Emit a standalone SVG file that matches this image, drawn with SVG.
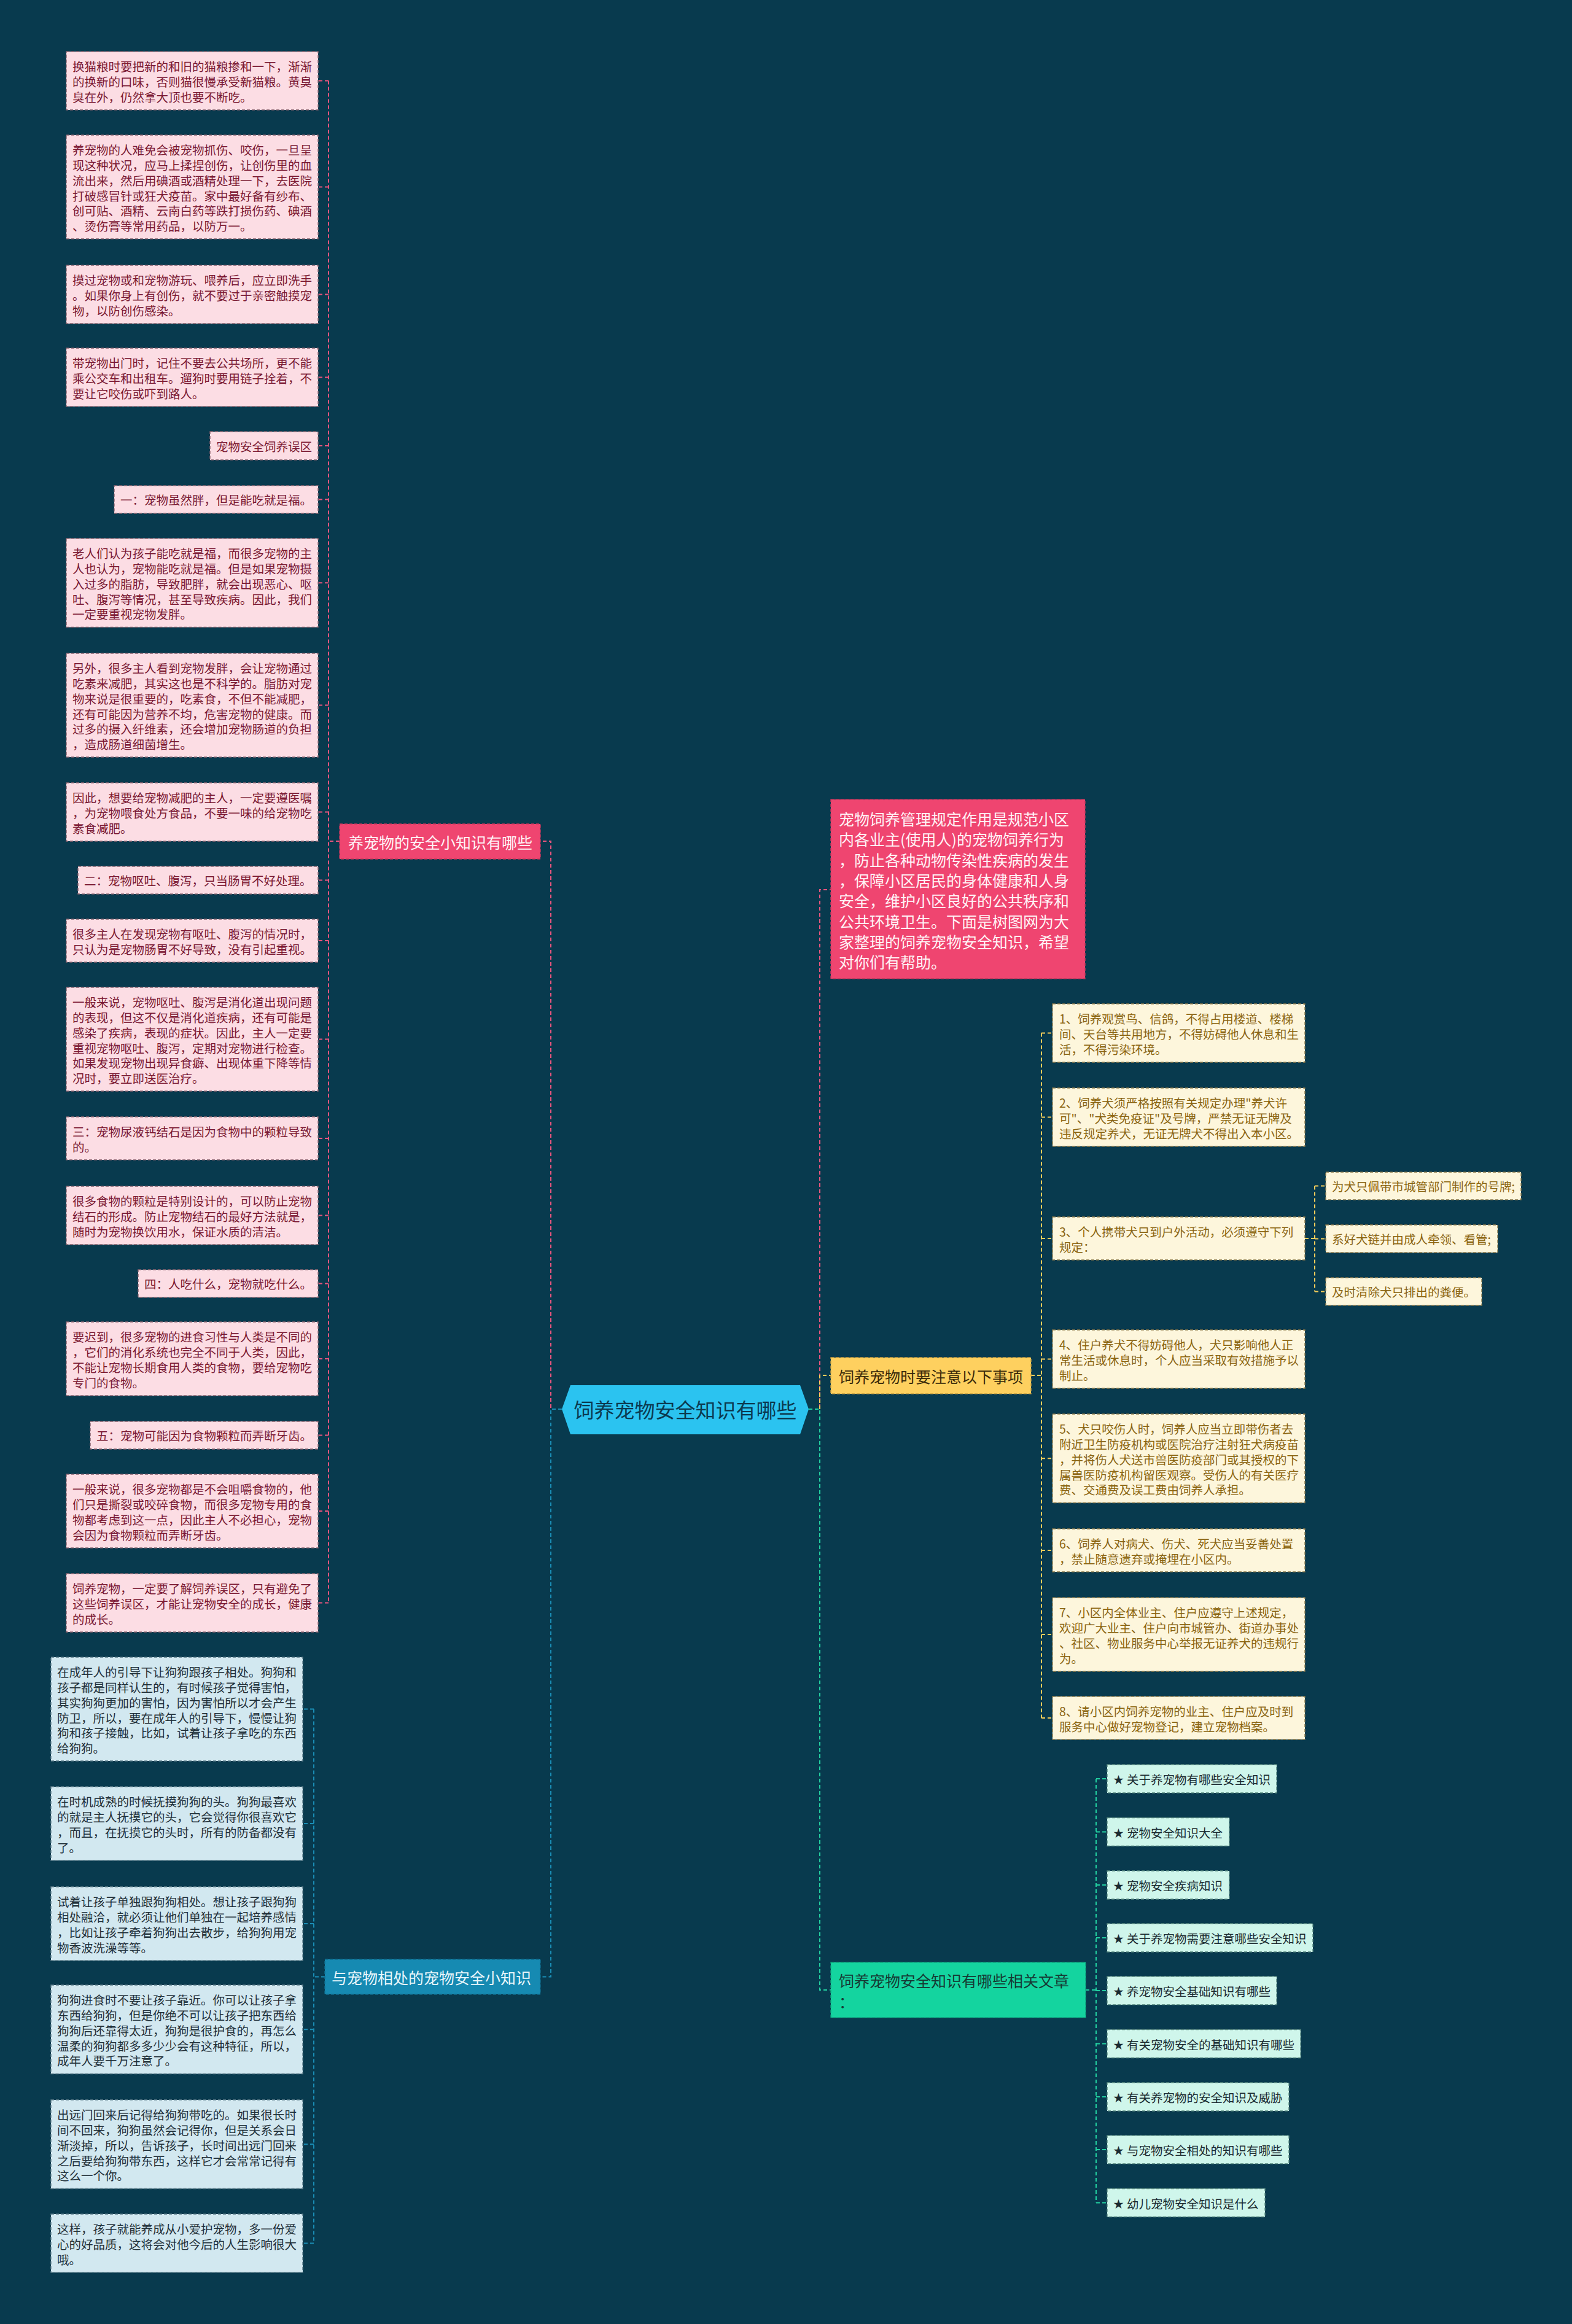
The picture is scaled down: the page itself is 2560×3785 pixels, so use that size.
<svg xmlns="http://www.w3.org/2000/svg" width="2560" height="3785" viewBox="0 0 2560 3785">
<style>
text{font-family:"Noto Sans CJK SC","Noto Sans",sans-serif;dominant-baseline:central}
.bg{fill:#083a4e}
.lf{font-size:19.5px}
.pk rect{fill:#fcdde4;stroke:#8a6470;stroke-width:1.4;stroke-dasharray:5 3}
.pk text{fill:#7a1832}
.bl rect{fill:#d2e8f0;stroke:#5f7f8c;stroke-width:1.4;stroke-dasharray:5 3}
.bl text{fill:#1f2f38}
.ye rect{fill:#fdf6dc;stroke:#8c7a4a;stroke-width:1.4;stroke-dasharray:5 3}
.ye text{fill:#8a6410}
.gr rect{fill:#cff6eb;stroke:#5a8a80;stroke-width:1.4;stroke-dasharray:5 3}
.gr text{fill:#1a2a30}
.br text{font-size:25px}
.c{fill:none;stroke-width:2;stroke-dasharray:6 4}
.cp{stroke:#e9557e}.cy{stroke:#f5cd5a}.cg{stroke:#22cfa0}.cb{stroke:#1a8db5}
</style>
<rect class="bg" x="0" y="0" width="2560" height="3785"/>

<g id="connectors">
  <!-- center to pink branch -->
  <path class="c cp" d="M915,2295 H897 V1370 H880"/>
  <!-- center to blue branch -->
  <path class="c cb" d="M915,2295 H897 V3219.5 H880"/>
  <!-- pink branch children -->
  <path class="c cp" d="M553,1370 H535"/>
  <path class="c cp" d="M535,131.5 V2610.5"/>
  <path class="c cp" d="M535,131.5 H518 M535,304.5 H518 M535,479.5 H518 M535,614.5 H518 M535,726 H518 M535,813.5 H518 M535,949.25 H518 M535,1148.5 H518 M535,1322.5 H518 M535,1433.5 H518 M535,1532 H518 M535,1692.5 H518 M535,1854 H518 M535,1979.5 H518 M535,2090.5 H518 M535,2213 H518 M535,2337.5 H518 M535,2461 H518 M535,2610.5 H518"/>
  <!-- blue branch children -->
  <path class="c cb" d="M529,3219.5 H511"/>
  <path class="c cb" d="M511,2783.5 V3653.5"/>
  <path class="c cb" d="M511,2783.5 H493 M511,2970 H493 M511,3133 H493 M511,3305.25 H493 M511,3492.25 H493 M511,3653.5 H493"/>
  <!-- center right -->
  <path class="c cp" d="M1317,2295 H1335 V1449 H1353"/>
  <path class="c cg" d="M1317,2295 H1335 V3241 H1353"/>
  <path class="c cy" d="M1335,2295 V2240 H1353"/>
  <!-- yellow children -->
  <path class="c cy" d="M1679,2240 H1696"/>
  <path class="c cy" d="M1696,1682.5 V2798"/>
  <path class="c cy" d="M1696,1682.5 H1714 M1696,1819.5 H1714 M1696,2017 H1714 M1696,2213.5 H1714 M1696,2375.25 H1714 M1696,2525 H1714 M1696,2662 H1714 M1696,2798 H1714"/>
  <path class="c cy" d="M2125,2017 H2141 M2141,1931.5 V2103.5 M2141,1931.5 H2159 M2141,2017.5 H2159 M2141,2103.5 H2159"/>
  <!-- green children -->
  <path class="c cg" d="M1768,3241 H1785"/>
  <path class="c cg" d="M1785,2897 V3587.5"/>
  <path class="c cg" d="M1785,2897 H1803 M1785,2983.5 H1803 M1785,3070 H1803 M1785,3156 H1803 M1785,3242 H1803 M1785,3328.5 H1803 M1785,3415 H1803 M1785,3501 H1803 M1785,3587.5 H1803"/>
</g>

<g id="center">
  <polygon points="915,2295 929,2256 1303,2256 1317,2295 1303,2336 929,2336" fill="#2bc3f0"/>
  <text x="1116" y="2295" font-size="33" fill="#0c3a50" text-anchor="middle">饲养宠物安全知识有哪些</text>
</g>

<g id="branch-pink" class="br">
  <rect x="553" y="1342" width="327" height="57" fill="#ef4570" stroke="#c8385c" stroke-width="1.4" stroke-dasharray="5 3"/>
  <text x="567" y="1370.5" fill="#fff3f6">养宠物的安全小知识有哪些</text>
</g>
<g id="branch-blue" class="br">
  <rect x="529" y="3191" width="351" height="57" fill="#168ab2" stroke="#0f6d8e" stroke-width="1.4" stroke-dasharray="5 3"/>
  <text x="540" y="3219.5" fill="#e8f6fb">与宠物相处的宠物安全小知识</text>
</g>
<g id="branch-intro" class="br">
  <rect x="1353" y="1302" width="414" height="292" fill="#ef4570" stroke="#c8385c" stroke-width="1.4" stroke-dasharray="5 3"/>
  <text fill="#fff3f6">
    <tspan x="1366" y="1333">宠物饲养管理规定作用是规范小区</tspan>
    <tspan x="1366" y="1366.3">内各业主(使用人)的宠物饲养行为</tspan>
    <tspan x="1366" y="1399.6">，防止各种动物传染性疾病的发生</tspan>
    <tspan x="1366" y="1432.9">，保障小区居民的身体健康和人身</tspan>
    <tspan x="1366" y="1466.2">安全，维护小区良好的公共秩序和</tspan>
    <tspan x="1366" y="1499.5">公共环境卫生。下面是树图网为大</tspan>
    <tspan x="1366" y="1532.8">家整理的饲养宠物安全知识，希望</tspan>
    <tspan x="1366" y="1566.1">对你们有帮助。</tspan>
  </text>
</g>
<g id="branch-yellow" class="br">
  <rect x="1353" y="2211" width="326" height="59" fill="#fed05f" stroke="#c9a040" stroke-width="1.4" stroke-dasharray="5 3"/>
  <text x="1366" y="2240.5" fill="#3a2a0a">饲养宠物时要注意以下事项</text>
</g>
<g id="branch-green" class="br">
  <rect x="1353" y="3196" width="415" height="90" fill="#14d49f" stroke="#10a47c" stroke-width="1.4" stroke-dasharray="5 3"/>
  <text fill="#163a34"><tspan x="1366" y="3225">饲养宠物安全知识有哪些相关文章</tspan><tspan x="1366" y="3259">：</tspan></text>
</g>

<!-- pink leaves -->
<g id="p1" class="pk lf"><rect x="108" y="84" width="410" height="95"/><text><tspan x="118" y="107.4">换猫粮时要把新的和旧的猫粮掺和一下，渐渐</tspan><tspan x="118" y="132.1">的换新的口味，否则猫很慢承受新猫粮。黄臭</tspan><tspan x="118" y="156.8">臭在外，仍然拿大顶也要不断吃。</tspan></text></g>
<g id="p2" class="pk lf"><rect x="108" y="220" width="410" height="169"/><text><tspan x="118" y="243.4">养宠物的人难免会被宠物抓伤、咬伤，一旦呈</tspan><tspan x="118" y="268.1">现这种状况，应马上揉捏创伤，让创伤里的血</tspan><tspan x="118" y="292.8">流出来，然后用碘酒或酒精处理一下，去医院</tspan><tspan x="118" y="317.5">打破感冒针或狂犬疫苗。家中最好备有纱布、</tspan><tspan x="118" y="342.2">创可贴、酒精、云南白药等跌打损伤药、碘酒</tspan><tspan x="118" y="366.9">、烫伤膏等常用药品，以防万一。</tspan></text></g>
<g id="p3" class="pk lf"><rect x="108" y="432" width="410" height="95"/><text><tspan x="118" y="455.4">摸过宠物或和宠物游玩、喂养后，应立即洗手</tspan><tspan x="118" y="480.1">。如果你身上有创伤，就不要过于亲密触摸宠</tspan><tspan x="118" y="504.8">物，以防创伤感染。</tspan></text></g>
<g id="p4" class="pk lf"><rect x="108" y="567" width="410" height="95"/><text><tspan x="118" y="590.4">带宠物出门时，记住不要去公共场所，更不能</tspan><tspan x="118" y="615.1">乘公交车和出租车。遛狗时要用链子拴着，不</tspan><tspan x="118" y="639.8">要让它咬伤或吓到路人。</tspan></text></g>
<g id="p5" class="pk lf"><rect x="342" y="703" width="176" height="46"/><text x="352" y="726">宠物安全饲养误区</text></g>
<g id="p6" class="pk lf"><rect x="186" y="791" width="332" height="45"/><text x="196" y="813.5">一：宠物虽然胖，但是能吃就是福。</text></g>
<g id="p7" class="pk lf"><rect x="108" y="877" width="410" height="144.5"/><text><tspan x="118" y="900.4">老人们认为孩子能吃就是福，而很多宠物的主</tspan><tspan x="118" y="925.1">人也认为，宠物能吃就是福。但是如果宠物摄</tspan><tspan x="118" y="949.8">入过多的脂肪，导致肥胖，就会出现恶心、呕</tspan><tspan x="118" y="974.5">吐、腹泻等情况，甚至导致疾病。因此，我们</tspan><tspan x="118" y="999.2">一定要重视宠物发胖。</tspan></text></g>
<g id="p8" class="pk lf"><rect x="108" y="1064" width="410" height="169"/><text><tspan x="118" y="1087.4">另外，很多主人看到宠物发胖，会让宠物通过</tspan><tspan x="118" y="1112.1">吃素来减肥，其实这也是不科学的。脂肪对宠</tspan><tspan x="118" y="1136.8">物来说是很重要的，吃素食，不但不能减肥，</tspan><tspan x="118" y="1161.5">还有可能因为营养不均，危害宠物的健康。而</tspan><tspan x="118" y="1186.2">过多的摄入纤维素，还会增加宠物肠道的负担</tspan><tspan x="118" y="1210.9">，造成肠道细菌增生。</tspan></text></g>
<g id="p9" class="pk lf"><rect x="108" y="1275" width="410" height="95"/><text><tspan x="118" y="1298.4">因此，想要给宠物减肥的主人，一定要遵医嘱</tspan><tspan x="118" y="1323.1">，为宠物喂食处方食品，不要一味的给宠物吃</tspan><tspan x="118" y="1347.8">素食减肥。</tspan></text></g>
<g id="p10" class="pk lf"><rect x="127" y="1411" width="391" height="45"/><text x="137" y="1433.5">二：宠物呕吐、腹泻，只当肠胃不好处理。</text></g>
<g id="p11" class="pk lf"><rect x="108" y="1497" width="410" height="70"/><text><tspan x="118" y="1520.4">很多主人在发现宠物有呕吐、腹泻的情况时，</tspan><tspan x="118" y="1545.1">只认为是宠物肠胃不好导致，没有引起重视。</tspan></text></g>
<g id="p12" class="pk lf"><rect x="108" y="1608" width="410" height="169"/><text><tspan x="118" y="1631.4">一般来说，宠物呕吐、腹泻是消化道出现问题</tspan><tspan x="118" y="1656.1">的表现，但这不仅是消化道疾病，还有可能是</tspan><tspan x="118" y="1680.8">感染了疾病，表现的症状。因此，主人一定要</tspan><tspan x="118" y="1705.5">重视宠物呕吐、腹泻，定期对宠物进行检查。</tspan><tspan x="118" y="1730.2">如果发现宠物出现异食癖、出现体重下降等情</tspan><tspan x="118" y="1754.9">况时，要立即送医治疗。</tspan></text></g>
<g id="p13" class="pk lf"><rect x="108" y="1819" width="410" height="70"/><text><tspan x="118" y="1842.4">三：宠物尿液钙结石是因为食物中的颗粒导致</tspan><tspan x="118" y="1867.1">的。</tspan></text></g>
<g id="p14" class="pk lf"><rect x="108" y="1932" width="410" height="95"/><text><tspan x="118" y="1955.4">很多食物的颗粒是特别设计的，可以防止宠物</tspan><tspan x="118" y="1980.1">结石的形成。防止宠物结石的最好方法就是，</tspan><tspan x="118" y="2004.8">随时为宠物换饮用水，保证水质的清洁。</tspan></text></g>
<g id="p15" class="pk lf"><rect x="225" y="2068" width="293" height="45"/><text x="235" y="2090.5">四：人吃什么，宠物就吃什么。</text></g>
<g id="p16" class="pk lf"><rect x="108" y="2153" width="410" height="120"/><text><tspan x="118" y="2176.4">要迟到，很多宠物的进食习性与人类是不同的</tspan><tspan x="118" y="2201.1">，它们的消化系统也完全不同于人类，因此，</tspan><tspan x="118" y="2225.8">不能让宠物长期食用人类的食物，要给宠物吃</tspan><tspan x="118" y="2250.5">专门的食物。</tspan></text></g>
<g id="p17" class="pk lf"><rect x="147" y="2315" width="371" height="45"/><text x="157" y="2337.5">五：宠物可能因为食物颗粒而弄断牙齿。</text></g>
<g id="p18" class="pk lf"><rect x="108" y="2401" width="410" height="120"/><text><tspan x="118" y="2424.4">一般来说，很多宠物都是不会咀嚼食物的，他</tspan><tspan x="118" y="2449.1">们只是撕裂或咬碎食物，而很多宠物专用的食</tspan><tspan x="118" y="2473.8">物都考虑到这一点，因此主人不必担心，宠物</tspan><tspan x="118" y="2498.5">会因为食物颗粒而弄断牙齿。</tspan></text></g>
<g id="p19" class="pk lf"><rect x="108" y="2563" width="410" height="95"/><text><tspan x="118" y="2586.4">饲养宠物，一定要了解饲养误区，只有避免了</tspan><tspan x="118" y="2611.1">这些饲养误区，才能让宠物安全的成长，健康</tspan><tspan x="118" y="2635.8">的成长。</tspan></text></g>

<!-- blue leaves -->
<g id="b1" class="bl lf"><rect x="83" y="2699" width="410" height="169"/><text><tspan x="93" y="2722.4">在成年人的引导下让狗狗跟孩子相处。狗狗和</tspan><tspan x="93" y="2747.1">孩子都是同样认生的，有时候孩子觉得害怕，</tspan><tspan x="93" y="2771.8">其实狗狗更加的害怕，因为害怕所以才会产生</tspan><tspan x="93" y="2796.5">防卫，所以，要在成年人的引导下，慢慢让狗</tspan><tspan x="93" y="2821.2">狗和孩子接触，比如，试着让孩子拿吃的东西</tspan><tspan x="93" y="2845.9">给狗狗。</tspan></text></g>
<g id="b2" class="bl lf"><rect x="83" y="2910" width="410" height="120"/><text><tspan x="93" y="2933.4">在时机成熟的时候抚摸狗狗的头。狗狗最喜欢</tspan><tspan x="93" y="2958.1">的就是主人抚摸它的头，它会觉得你很喜欢它</tspan><tspan x="93" y="2982.8">，而且，在抚摸它的头时，所有的防备都没有</tspan><tspan x="93" y="3007.5">了。</tspan></text></g>
<g id="b3" class="bl lf"><rect x="83" y="3073" width="410" height="120"/><text><tspan x="93" y="3096.4">试着让孩子单独跟狗狗相处。想让孩子跟狗狗</tspan><tspan x="93" y="3121.1">相处融洽，就必须让他们单独在一起培养感情</tspan><tspan x="93" y="3145.8">，比如让孩子牵着狗狗出去散步，给狗狗用宠</tspan><tspan x="93" y="3170.5">物香波洗澡等等。</tspan></text></g>
<g id="b4" class="bl lf"><rect x="83" y="3233" width="410" height="144.5"/><text><tspan x="93" y="3256.4">狗狗进食时不要让孩子靠近。你可以让孩子拿</tspan><tspan x="93" y="3281.1">东西给狗狗，但是你绝不可以让孩子把东西给</tspan><tspan x="93" y="3305.8">狗狗后还靠得太近，狗狗是很护食的，再怎么</tspan><tspan x="93" y="3330.5">温柔的狗狗都多多少少会有这种特征，所以，</tspan><tspan x="93" y="3355.2">成年人要千万注意了。</tspan></text></g>
<g id="b5" class="bl lf"><rect x="83" y="3420" width="410" height="144.5"/><text><tspan x="93" y="3443.4">出远门回来后记得给狗狗带吃的。如果很长时</tspan><tspan x="93" y="3468.1">间不回来，狗狗虽然会记得你，但是关系会日</tspan><tspan x="93" y="3492.8">渐淡掉，所以，告诉孩子，长时间出远门回来</tspan><tspan x="93" y="3517.5">之后要给狗狗带东西，这样它才会常常记得有</tspan><tspan x="93" y="3542.2">这么一个你。</tspan></text></g>
<g id="b6" class="bl lf"><rect x="83" y="3606" width="410" height="95"/><text><tspan x="93" y="3629.4">这样，孩子就能养成从小爱护宠物，多一份爱</tspan><tspan x="93" y="3654.1">心的好品质，这将会对他今后的人生影响很大</tspan><tspan x="93" y="3678.8">哦。</tspan></text></g>

<!-- yellow leaves -->
<g id="y1" class="ye lf"><rect x="1714" y="1635" width="411" height="95"/><text><tspan x="1725" y="1658.4">1、饲养观赏鸟、信鸽，不得占用楼道、楼梯</tspan><tspan x="1725" y="1683.1">间、天台等共用地方，不得妨碍他人休息和生</tspan><tspan x="1725" y="1707.8">活，不得污染环境。</tspan></text></g>
<g id="y2" class="ye lf"><rect x="1714" y="1772" width="411" height="95"/><text><tspan x="1725" y="1795.4">2、饲养犬须严格按照有关规定办理"养犬许</tspan><tspan x="1725" y="1820.1">可"、"犬类免疫证"及号牌，严禁无证无牌及</tspan><tspan x="1725" y="1844.8">违反规定养犬，无证无牌犬不得出入本小区。</tspan></text></g>
<g id="y3" class="ye lf"><rect x="1714" y="1982" width="411" height="70"/><text><tspan x="1725" y="2005.4">3、个人携带犬只到户外活动，必须遵守下列</tspan><tspan x="1725" y="2030.1">规定：</tspan></text></g>
<g id="y3a" class="ye lf"><rect x="2159" y="1909" width="318" height="45"/><text x="2169" y="1931.5">为犬只佩带市城管部门制作的号牌;</text></g>
<g id="y3b" class="ye lf"><rect x="2159" y="1995" width="280" height="45"/><text x="2169" y="2017.5">系好犬链并由成人牵领、看管;</text></g>
<g id="y3c" class="ye lf"><rect x="2159" y="2081" width="254" height="45"/><text x="2169" y="2103.5">及时清除犬只排出的粪便。</text></g>
<g id="y4" class="ye lf"><rect x="1714" y="2166" width="411" height="95"/><text><tspan x="1725" y="2189.4">4、住户养犬不得妨碍他人，犬只影响他人正</tspan><tspan x="1725" y="2214.1">常生活或休息时，个人应当采取有效措施予以</tspan><tspan x="1725" y="2238.8">制止。</tspan></text></g>
<g id="y5" class="ye lf"><rect x="1714" y="2303" width="411" height="144.5"/><text><tspan x="1725" y="2326.4">5、犬只咬伤人时，饲养人应当立即带伤者去</tspan><tspan x="1725" y="2351.1">附近卫生防疫机构或医院治疗注射狂犬病疫苗</tspan><tspan x="1725" y="2375.8">，并将伤人犬送市兽医防疫部门或其授权的下</tspan><tspan x="1725" y="2400.5">属兽医防疫机构留医观察。受伤人的有关医疗</tspan><tspan x="1725" y="2425.2">费、交通费及误工费由饲养人承担。</tspan></text></g>
<g id="y6" class="ye lf"><rect x="1714" y="2490" width="411" height="70"/><text><tspan x="1725" y="2513.4">6、饲养人对病犬、伤犬、死犬应当妥善处置</tspan><tspan x="1725" y="2538.1">，禁止随意遗弃或掩埋在小区内。</tspan></text></g>
<g id="y7" class="ye lf"><rect x="1714" y="2602" width="411" height="120"/><text><tspan x="1725" y="2625.4">7、小区内全体业主、住户应遵守上述规定，</tspan><tspan x="1725" y="2650.1">欢迎广大业主、住户向市城管办、街道办事处</tspan><tspan x="1725" y="2674.8">、社区、物业服务中心举报无证养犬的违规行</tspan><tspan x="1725" y="2699.5">为。</tspan></text></g>
<g id="y8" class="ye lf"><rect x="1714" y="2763" width="411" height="70"/><text><tspan x="1725" y="2786.4">8、请小区内饲养宠物的业主、住户应及时到</tspan><tspan x="1725" y="2811.1">服务中心做好宠物登记，建立宠物档案。</tspan></text></g>

<!-- green leaves -->
<g id="g1" class="gr lf"><rect x="1803" y="2874" width="276" height="46"/><text y="2897"><tspan x="1813" font-size="17">★</tspan><tspan x="1835">关于养宠物有哪些安全知识</tspan></text></g>
<g id="g2" class="gr lf"><rect x="1803" y="2960.5" width="199" height="46"/><text y="2983.5"><tspan x="1813" font-size="17">★</tspan><tspan x="1835">宠物安全知识大全</tspan></text></g>
<g id="g3" class="gr lf"><rect x="1803" y="3047" width="199" height="46"/><text y="3070"><tspan x="1813" font-size="17">★</tspan><tspan x="1835">宠物安全疾病知识</tspan></text></g>
<g id="g4" class="gr lf"><rect x="1803" y="3133" width="335" height="46"/><text y="3156"><tspan x="1813" font-size="17">★</tspan><tspan x="1835">关于养宠物需要注意哪些安全知识</tspan></text></g>
<g id="g5" class="gr lf"><rect x="1803" y="3219" width="276" height="46"/><text y="3242"><tspan x="1813" font-size="17">★</tspan><tspan x="1835">养宠物安全基础知识有哪些</tspan></text></g>
<g id="g6" class="gr lf"><rect x="1803" y="3305.5" width="315" height="46"/><text y="3328.5"><tspan x="1813" font-size="17">★</tspan><tspan x="1835">有关宠物安全的基础知识有哪些</tspan></text></g>
<g id="g7" class="gr lf"><rect x="1803" y="3392" width="296" height="46"/><text y="3415"><tspan x="1813" font-size="17">★</tspan><tspan x="1835">有关养宠物的安全知识及威胁</tspan></text></g>
<g id="g8" class="gr lf"><rect x="1803" y="3478" width="296" height="46"/><text y="3501"><tspan x="1813" font-size="17">★</tspan><tspan x="1835">与宠物安全相处的知识有哪些</tspan></text></g>
<g id="g9" class="gr lf"><rect x="1803" y="3564.5" width="257" height="46"/><text y="3587.5"><tspan x="1813" font-size="17">★</tspan><tspan x="1835">幼儿宠物安全知识是什么</tspan></text></g>
</svg>
